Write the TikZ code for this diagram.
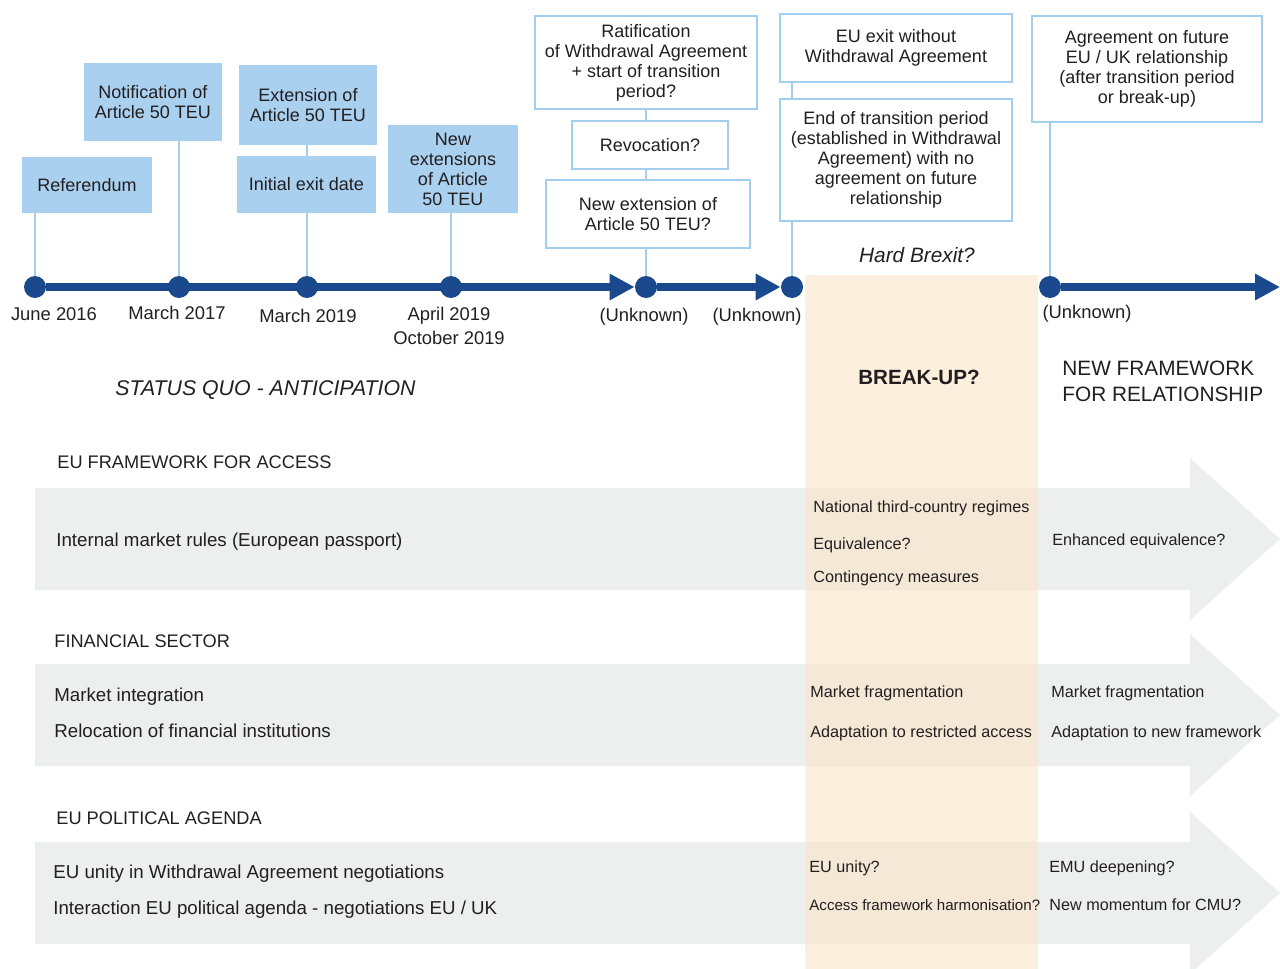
\documentclass[tikz,border=0pt]{standalone}
\usepackage{fontspec}
\setmainfont{Liberation Sans}
\usetikzlibrary{arrows.meta,backgrounds}
\definecolor{tlblue}{RGB}{26,74,141}
\definecolor{boxblue}{RGB}{169,208,238}
\definecolor{stemblue}{RGB}{164,206,238}
\definecolor{bandgrey}{RGB}{237,238,238}
\definecolor{brexitbeige}{RGB}{252,228,198}
\definecolor{txtgrey}{RGB}{35,31,32}

\begin{document}
\begin{tikzpicture}[x=0.5pt, y=-0.5pt,
  every node/.style={text=txtgrey},
  evbox/.style={fill=boxblue, align=center, inner sep=0pt, font=\fontsize{9}{10}\selectfont},
  openbox/.style={draw=stemblue, line width=0.8pt, fill=white, align=center, inner sep=0pt, font=\fontsize{9}{10}\selectfont},
  dot/.style={circle, fill=tlblue, minimum size=11pt, inner sep=0pt},
  tl/.style={draw=tlblue, line width=4pt, -{Triangle[length=12.5pt,width=12.5pt]}},
  stem/.style={draw=stemblue, line width=1pt},
  datelbl/.style={align=center, font=\fontsize{9.2}{12}\selectfont},
  band/.style={fill=bandgrey},
  bandhead/.style={anchor=base west, inner sep=0pt, font=\fontsize{9.1}{11}\selectfont},
  bandtxt/.style={anchor=base west, inner sep=0pt, font=\fontsize{9.35}{11}\selectfont},
  smalltxt/.style={anchor=base west, inner sep=0pt, font=\fontsize{8.1}{10}\selectfont}]
\useasboundingbox (0,0) rectangle (1280,969);

\fill[band] (35,488) -- (1190,488) -- (1190,458) -- (1280,539) -- (1190,620) -- (1190,590) -- (35,590) -- cycle;
\fill[band] (35,664) -- (1190,664) -- (1190,634) -- (1280,715) -- (1190,796) -- (1190,766) -- (35,766) -- cycle;
\fill[band] (35,842) -- (1190,842) -- (1190,812) -- (1280,893) -- (1190,974) -- (1190,944) -- (35,944) -- cycle;
\fill[brexitbeige, fill opacity=0.6] (805,275) rectangle (1038,969);

\node[dot] (d1) at (35,287) {};
\node[dot] (d2) at (179,287) {};
\node[dot] (d3) at (307,287) {};
\node[dot] (d4) at (451,287) {};
\node[dot] (d5) at (646,287) {};
\node[dot] (d6) at (792,287) {};
\node[dot] (d7) at (1050,287) {};
\coordinate (tlend) at (1280,287);

\node[evbox, minimum width=65pt, minimum height=28pt] (refbox) at (87,185) {Referendum};
\node[evbox, minimum width=69pt, minimum height=39pt] (notif) at (153,102) {Notification of\\Article 50 TEU};
\node[evbox, minimum width=69pt, minimum height=40pt] (extbox) at (308,105) {Extension of\\Article 50 TEU};
\node[evbox, minimum width=69.5pt, minimum height=28.5pt] (initial) at (306.5,184.5) {Initial exit date};
\node[evbox, minimum width=65pt, minimum height=44pt] (newext) at (453,169) {New\\extensions\\of Article\\50 TEU};

\node[openbox, minimum width=111pt, minimum height=46.5pt] (ratif) at (646,62.5) {Ratification\\of Withdrawal Agreement\\+ start of transition\\period?};
\node[openbox, minimum width=78pt, minimum height=24pt] (revoc) at (650,145) {Revocation?};
\node[openbox, minimum width=102pt, minimum height=34pt] (newext2) at (648,214) {New extension of\\Article 50 TEU?};
\node[openbox, minimum width=116pt, minimum height=34pt] (noexit) at (896,48) {EU exit without\\Withdrawal Agreement};
\node[openbox, minimum width=116pt, minimum height=61pt] (endtrans) at (896,160) {End of transition period\\(established in Withdrawal\\Agreement) with no\\agreement on future\\relationship};
\node[openbox, minimum width=115pt, minimum height=53pt] (future) at (1147,69) {Agreement on future\\EU / UK relationship\\(after transition period\\or break-up)};

\begin{pgfonlayer}{background}
\draw[stem] (d1) -- (d1 |- refbox.south);
\draw[stem] (d2) -- (d2 |- notif.south);
\draw[stem] (d3) -- (d3 |- extbox.south);
\draw[stem] (d4) -- (d4 |- newext.south);
\draw[stem] (d5) -- (d5 |- ratif.south);
\draw[stem] (d6) -- (d6 |- noexit.south);
\draw[stem] (d7) -- (d7 |- future.south);
\end{pgfonlayer}

\draw[tl] (d1) -- (d5);
\draw[tl] (d5) -- (d6);
\draw[tl] (d7) -- (tlend);

\node[datelbl] (t1) at (54,314) {June 2016};
\node[datelbl] (t2) at (177,313) {March 2017};
\node[datelbl] (t3) at (308,316) {March 2019};
\node[datelbl] (t4) at (449,326) {April 2019\\October 2019};
\node[datelbl] (t5) at (644,317) {(Unknown)};
\node[datelbl] (t6) at (757,317) {(Unknown)};
\node[datelbl] (t7) at (1087,314) {(Unknown)};

\node[font=\fontsize{10.4}{13}\selectfont\itshape] (hard) at (917,255) {Hard Brexit?};
\node[font=\fontsize{10.3}{13}\selectfont\bfseries] (breakup) at (919,377) {BREAK-UP?};
\node[anchor=west, inner sep=0pt, align=left, font=\fontsize{10.4}{13}\selectfont] (newfw) at (1062,381) {NEW FRAMEWORK\\FOR RELATIONSHIP};
\node[anchor=west, inner sep=0pt, font=\fontsize{10.65}{13}\selectfont\itshape] (statusquo) at (115,390) {STATUS QUO - ANTICIPATION};

\node[bandhead] (h1) at (57,468) {EU FRAMEWORK FOR ACCESS};
\node[bandtxt] (a1) at (56,546) {Internal market rules (European passport)};
\node[smalltxt] (b1) at (813,512) {National third-country regimes};
\node[smalltxt] (b2) at (813,549) {Equivalence?};
\node[smalltxt] (b3) at (813,582) {Contingency measures};
\node[smalltxt] (c1) at (1052,545) {Enhanced equivalence?};

\node[bandhead] (h2) at (54,647) {FINANCIAL SECTOR};
\node[bandtxt] (a2) at (54,701) {Market integration};
\node[bandtxt] (a3) at (54,737) {Relocation of financial institutions};
\node[smalltxt] (b4) at (810,697) {Market fragmentation};
\node[smalltxt] (b5) at (810,737) {Adaptation to restricted access};
\node[smalltxt] (c2) at (1051,697) {Market fragmentation};
\node[smalltxt] (c3) at (1051,737) {Adaptation to new framework};

\node[bandhead] (h3) at (56,824) {EU POLITICAL AGENDA};
\node[bandtxt] (a4) at (53,878) {EU unity in Withdrawal Agreement negotiations};
\node[bandtxt] (a5) at (53,914) {Interaction EU political agenda - negotiations EU / UK};
\node[smalltxt] (b6) at (809,872) {EU unity?};
\node[smalltxt, font=\fontsize{7.55}{10}\selectfont] (b7) at (809,910) {Access framework harmonisation?};
\node[smalltxt] (c4) at (1049,872) {EMU deepening?};
\node[smalltxt] (c5) at (1049,910) {New momentum for CMU?};
\end{tikzpicture}
\end{document}
